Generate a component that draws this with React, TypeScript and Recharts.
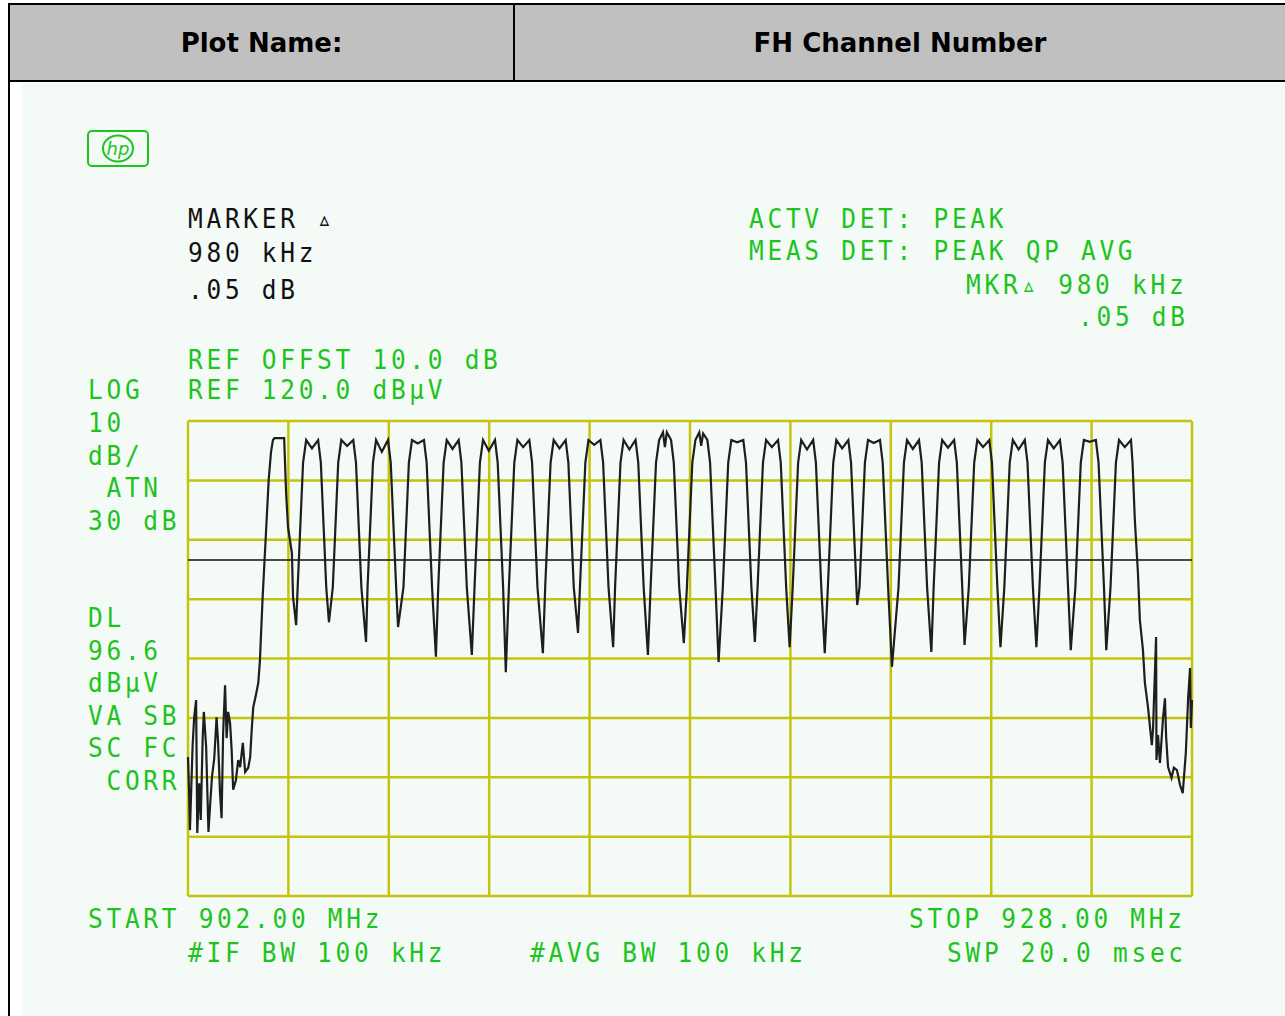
import React from 'react';
import { LineChart, Line, XAxis, YAxis, ReferenceLine } from 'recharts';

// ─── Data ─────────────────────────────────────────────────────────────────────

/** Frequency graticule, MHz (START 902.00, STOP 928.00, 10 divisions). */
const FREQ_TICKS = [902, 904.6, 907.2, 909.8, 912.4, 915, 917.6, 920.2, 922.8, 925.4, 928];

/** Level graticule, dBµV (REF 120.0, 10 dB/div). */
const LEVEL_TICKS = [40, 50, 60, 70, 80, 90, 100, 110, 120];

/** Display line level, dBµV. */
const DISPLAY_LINE = 96.6;

/** Noise floor below the band edge: [MHz, dBµV]. */
const leftNoise: [number, number][] = [
  [902.0, 63.4], [902.03, 57.3], [902.05, 51.1], [902.12, 65.4], [902.16, 70.1], [902.21, 73.0],
  [902.24, 50.6], [902.29, 59.0], [902.33, 52.8], [902.38, 66.6], [902.41, 71.0], [902.47, 65.1],
  [902.53, 50.8], [902.57, 55.0], [902.62, 60.0], [902.68, 63.2], [902.74, 70.1], [902.78, 65.8],
  [902.83, 57.3], [902.87, 53.1], [902.91, 67.5], [902.96, 75.5], [903.0, 66.6], [903.04, 71.0],
  [903.09, 69.1], [903.13, 64.6], [903.17, 57.9], [903.24, 59.5], [903.3, 62.9], [903.35, 61.7],
  [903.42, 65.8], [903.48, 60.9], [903.56, 61.6],
];

/** The 25 hopping channels, peak tops and the dips between them: [MHz, dBµV]. */
const hopChannels: [number, number][] = [
  [903.61, 63.4], [903.65, 68.0], [903.69, 71.8], [903.76, 73.9], [903.82, 75.9], [903.86, 79.4],
  [903.93, 89.9], [904.02, 101.3], [904.09, 110.1], [904.15, 114.8], [904.2, 116.8], [904.24, 117.1],
  [904.49, 117.1], [904.54, 108.0], [904.59, 102.1], [904.69, 97.8], [904.72, 90.4], [904.8, 85.6],
  [904.84, 92], [904.9, 101], [904.98, 113], [905.06, 116.8], [905.21, 115.4], [905.37, 116.8], [905.44, 113], [905.52, 101], [905.58, 92], [905.65, 86.1],
  [905.75, 92], [905.81, 101], [905.89, 113], [905.97, 116.8], [906.12, 115.8], [906.28, 116.8], [906.35, 113], [906.43, 101], [906.49, 92], [906.61, 82.8],
  [906.65, 92], [906.71, 101], [906.79, 113], [906.87, 116.8], [907.02, 114.8], [907.18, 116.8], [907.25, 113], [907.33, 101], [907.39, 92], [907.44, 85.3],
  [907.58, 92], [907.64, 101], [907.72, 113], [907.8, 116.8], [907.95, 116.2], [908.11, 116.8], [908.18, 113], [908.26, 101], [908.32, 92], [908.42, 80.3],
  [908.48, 92], [908.54, 101], [908.62, 113], [908.7, 116.8], [908.85, 115.3], [909.01, 116.8], [909.08, 113], [909.16, 101], [909.22, 92], [909.35, 80.6],
  [909.42, 92], [909.48, 101], [909.56, 113], [909.64, 116.8], [909.79, 115.0], [909.95, 116.8], [910.02, 113], [910.1, 101], [910.16, 92], [910.23, 77.7],
  [910.31, 92], [910.37, 101], [910.45, 113], [910.53, 116.8], [910.68, 115.6], [910.84, 116.8], [910.91, 113], [910.99, 101], [911.05, 92], [911.19, 80.9],
  [911.25, 92], [911.31, 101], [911.39, 113], [911.47, 116.8], [911.62, 115.4], [911.78, 116.8], [911.85, 113], [911.93, 101], [911.99, 92], [912.1, 84.3],
  [912.15, 92], [912.21, 101], [912.29, 113], [912.37, 116.8], [912.52, 116.0], [912.68, 116.8], [912.75, 113], [912.83, 101], [912.89, 92], [913.01, 81.9],
  [913.06, 92], [913.12, 101], [913.2, 113], [913.28, 116.8], [913.43, 115.2], [913.59, 116.8], [913.66, 113], [913.74, 101], [913.8, 92], [913.91, 80.6],
  [913.98, 92], [914.04, 101], [914.12, 113], [914.2, 116.8], [914.3, 118.1], [914.35, 115.6], [914.4, 118.1], [914.51, 116.8], [914.58, 113], [914.66, 101], [914.72, 92], [914.84, 82.6],
  [914.92, 92], [914.98, 101], [915.06, 113], [915.14, 116.8], [915.24, 118.1], [915.29, 115.8], [915.34, 117.9], [915.45, 116.8], [915.52, 113], [915.6, 101], [915.66, 92], [915.74, 79.4],
  [915.85, 92], [915.91, 101], [915.99, 113], [916.07, 116.8], [916.22, 116.4], [916.38, 116.8], [916.45, 113], [916.53, 101], [916.59, 92], [916.68, 82.8],
  [916.75, 92], [916.81, 101], [916.89, 113], [916.97, 116.8], [917.12, 115.6], [917.28, 116.8], [917.35, 113], [917.43, 101], [917.49, 92], [917.58, 81.9],
  [917.66, 92], [917.72, 101], [917.8, 113], [917.88, 116.8], [918.03, 115.2], [918.19, 116.8], [918.26, 113], [918.34, 101], [918.4, 92], [918.49, 80.9],
  [918.57, 92], [918.63, 101], [918.71, 113], [918.79, 116.8], [918.94, 115.4], [919.1, 116.8], [919.17, 113], [919.25, 101], [919.31, 92], [919.33, 89.0],
  [919.39, 92], [919.45, 101], [919.53, 113], [919.61, 116.8], [919.76, 116.3], [919.92, 116.8], [919.99, 113], [920.07, 101], [920.13, 92], [920.23, 78.6],
  [920.4, 92], [920.46, 101], [920.54, 113], [920.62, 116.8], [920.77, 115.3], [920.93, 116.8], [921.0, 113], [921.08, 101], [921.14, 92], [921.25, 81.1],
  [921.31, 92], [921.37, 101], [921.45, 113], [921.53, 116.8], [921.68, 115.5], [921.84, 116.8], [921.91, 113], [921.99, 101], [922.05, 92], [922.11, 82.3],
  [922.22, 92], [922.28, 101], [922.36, 113], [922.44, 116.8], [922.59, 115.6], [922.75, 116.8], [922.82, 113], [922.9, 101], [922.96, 92], [923.04, 81.9],
  [923.14, 92], [923.2, 101], [923.28, 113], [923.36, 116.8], [923.51, 115.2], [923.67, 116.8], [923.74, 113], [923.82, 101], [923.88, 92], [923.97, 81.9],
  [924.05, 92], [924.11, 101], [924.19, 113], [924.27, 116.8], [924.42, 115.4], [924.58, 116.8], [924.65, 113], [924.73, 101], [924.79, 92], [924.86, 81.4],
  [924.98, 92], [925.04, 101], [925.12, 113], [925.2, 116.8], [925.35, 116.5], [925.51, 116.8], [925.58, 113], [925.66, 101], [925.72, 92], [925.78, 81.4],
  [925.89, 92], [925.95, 101], [926.03, 113], [926.11, 116.8], [926.26, 115.6], [926.42, 116.8],
];

/** Upper band edge roll-off into the noise: [MHz, dBµV]. */
const rightSkirt: [number, number][] = [
  [926.46, 113.0], [926.52, 103.3], [926.6, 94.4], [926.65, 86.5], [926.73, 81.4], [926.78, 75.9],
  [926.86, 71.8], [926.96, 65.4], [926.99, 68.0], [927.07, 83.6], [927.08, 62.9], [927.12, 67.1],
  [927.17, 62.4], [927.25, 70.0], [927.3, 73.3], [927.33, 66.8], [927.38, 61.7], [927.47, 59.9],
  [927.53, 61.6], [927.61, 61.2], [927.69, 58.7], [927.76, 57.3], [927.84, 64.1], [927.9, 73.3],
  [927.95, 78.4], [927.97, 68.3], [928.0, 73.0],
];

// ─── Annotation text ──────────────────────────────────────────────────────────

const markerLines = ['MARKER ▵', '980 kHz', '.05 dB'];
const detectorLines = ['ACTV DET: PEAK', 'MEAS DET: PEAK QP AVG'];
const mkrReadout = ['MKR▵ 980 kHz', '.05 dB'];
const refLines = ['REF OFFST 10.0 dB', 'REF 120.0 dBµV'];
const leftUpper = ['LOG', '10', 'dB/', ' ATN', '30 dB'];
const leftLower = ['DL', '96.6', 'dBµV', 'VA SB', 'SC FC', ' CORR'];

const trace = [...leftNoise, ...hopChannels, ...rightSkirt].map(([f, v]) => ({ f, v }));

const GREEN = '#1ec31e';
const GRID = '#c4c40c';
const PANEL = '#f4faf6';

function HpText({ x, y, children, fill = GREEN }: { x: number; y: number; children: React.ReactNode; fill?: string }) {
  return (
    <text
      transform={`translate(${x} ${y}) scale(1 1.12)`}
      fill={fill}
      fontFamily="'DejaVu Sans Mono', monospace"
      fontSize={24.5}
      letterSpacing={3.7}
      style={{ whiteSpace: 'pre' }}
    >
      {children}
    </text>
  );
}

export default function App() {
  return (
    <div style={{ position: 'absolute', left: 0, top: 0, width: 1285, height: 1016, background: '#fff', overflow: 'hidden' }}>
      {/* header row */}
      <div style={{ position: 'absolute', left: 8, top: 3, width: 1285, height: 79, background: '#c0c0c0', borderTop: '2px solid #000', borderLeft: '2px solid #000', borderBottom: '2px solid #000', boxSizing: 'border-box' }} />
      <div style={{ position: 'absolute', left: 513, top: 3, width: 2, height: 79, background: '#000' }} />
      <div style={{ position: 'absolute', left: 8, top: 3, width: 2, height: 1013, background: '#000' }} />
      <div style={{ position: 'absolute', left: 10, top: 5, width: 503, height: 75, display: 'flex', alignItems: 'center', justifyContent: 'center', fontFamily: "'DejaVu Sans', sans-serif", fontWeight: 'bold', fontSize: 26, color: '#000' }}>
        Plot Name:
      </div>
      <div style={{ position: 'absolute', left: 515, top: 5, width: 770, height: 75, display: 'flex', alignItems: 'center', justifyContent: 'center', fontFamily: "'DejaVu Sans', sans-serif", fontWeight: 'bold', fontSize: 26, color: '#000' }}>
        FH Channel Number
      </div>

      {/* analyzer screen */}
      <div style={{ position: 'absolute', left: 22, top: 83, width: 1263, height: 933, background: PANEL }} />

      <div style={{ position: 'absolute', left: 178, top: 411 }}>
        <LineChart width={1024} height={495} data={trace} margin={{ top: 10, right: 10, bottom: 10, left: 10 }}>
          <XAxis dataKey="f" type="number" domain={[902, 928]} ticks={FREQ_TICKS} height={0} tick={false} axisLine={false} tickLine={false} />
          <YAxis type="number" domain={[40, 120]} ticks={LEVEL_TICKS} width={0} tick={false} axisLine={false} tickLine={false} />
          {/* graticule */}
          {FREQ_TICKS.map((f) => (
            <ReferenceLine key={`x${f}`} x={f} stroke={GRID} strokeWidth={2.5} />
          ))}
          {LEVEL_TICKS.map((v) => (
            <ReferenceLine key={`y${v}`} y={v} stroke={GRID} strokeWidth={2.5} />
          ))}
          <ReferenceLine y={DISPLAY_LINE} stroke="#111" strokeWidth={1.6} />
          <Line dataKey="v" type="linear" stroke="#1e1e1e" strokeWidth={2.2} dot={false} activeDot={false} isAnimationActive={false} />
        </LineChart>
      </div>

      <svg width={1285} height={1016} style={{ position: 'absolute', left: 0, top: 0, pointerEvents: 'none' }}>
        {/* hp logo */}
        <rect x={88} y={131} width={60} height={35} rx={4} fill="none" stroke={GREEN} strokeWidth={2} />
        <ellipse cx={118} cy={148.5} rx={15} ry={13} fill="none" stroke={GREEN} strokeWidth={2} />
        <text x={118} y={155} textAnchor="middle" fill={GREEN} fontFamily="'DejaVu Sans', sans-serif" fontStyle="italic" fontSize={18}>hp</text>

        {markerLines.map((t, i) => (
          <HpText key={t} x={188} y={[228, 262, 299][i]} fill="#111">{t}</HpText>
        ))}
        {detectorLines.map((t, i) => (
          <HpText key={t} x={749} y={228 + i * 32}>{t}</HpText>
        ))}
        <HpText x={966} y={294}>{mkrReadout[0]}</HpText>
        <HpText x={1078} y={326}>{mkrReadout[1]}</HpText>
        {refLines.map((t, i) => (
          <HpText key={t} x={188} y={369 + i * 30}>{t}</HpText>
        ))}
        {leftUpper.map((t, i) => (
          <HpText key={t} x={88} y={399 + i * 32.8}>{t}</HpText>
        ))}
        {leftLower.map((t, i) => (
          <HpText key={t} x={88} y={627 + i * 32.6}>{t}</HpText>
        ))}
        <HpText x={88} y={928}>START 902.00 MHz</HpText>
        <HpText x={909} y={928}>STOP 928.00 MHz</HpText>
        <HpText x={188} y={962}>#IF BW 100 kHz</HpText>
        <HpText x={530} y={962}>#AVG BW 100 kHz</HpText>
        <HpText x={947} y={962}>SWP 20.0 msec</HpText>
      </svg>
    </div>
  );
}
